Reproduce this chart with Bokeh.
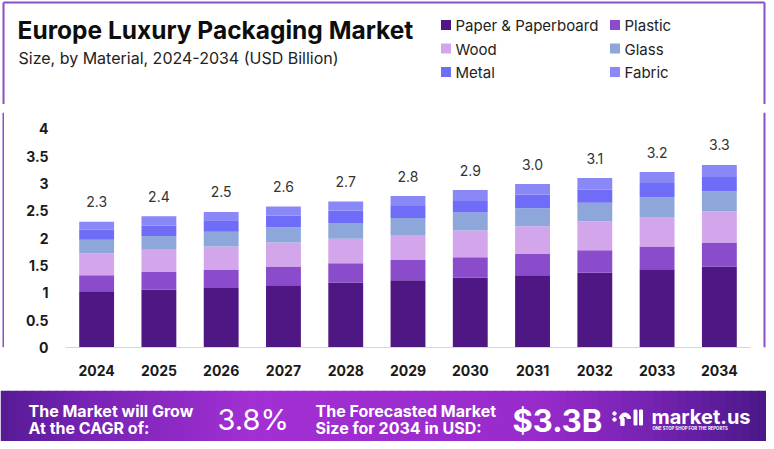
from bokeh.plotting import figure
from bokeh.models import ColumnDataSource, FactorRange, Range1d, FixedTicker
from bokeh.layouts import column, row
from bokeh.embed import file_html
from bokeh.resources import INLINE
from bokeh.core.properties import value

# ---------------- data ----------------
years = ["2024", "2025", "2026", "2027", "2028", "2029", "2030", "2031", "2032", "2033", "2034"]
materials = ["Paper & Paperboard", "Plastic", "Wood", "Glass", "Metal", "Fabric"]
paper = [1.03, 1.06, 1.09, 1.14, 1.19, 1.23, 1.28, 1.32, 1.37, 1.43, 1.48]
plastic = [0.29, 0.32, 0.33, 0.34, 0.35, 0.37, 0.37, 0.39, 0.41, 0.42, 0.44]
wood = [0.40, 0.41, 0.43, 0.44, 0.45, 0.46, 0.49, 0.51, 0.53, 0.54, 0.57]
glass = [0.25, 0.25, 0.27, 0.28, 0.29, 0.31, 0.33, 0.33, 0.34, 0.36, 0.37]
metal = [0.19, 0.19, 0.21, 0.21, 0.22, 0.22, 0.21, 0.25, 0.24, 0.26, 0.26]
fabric = [0.14, 0.17, 0.15, 0.17, 0.17, 0.18, 0.20, 0.19, 0.21, 0.20, 0.22]
total_labels = ["2.3", "2.4", "2.5", "2.6", "2.7", "2.8", "2.9", "3.0", "3.1", "3.2", "3.3"]
y_ticks = [0, 0.5, 1, 1.5, 2, 2.5, 3, 3.5, 4]
y_tick_labels = ["0", "0.5", "1", "1.5", "2", "2.5", "3", "3.5", "4"]

title_text = "Europe Luxury Packaging Market"
subtitle_text = "Size, by Material, 2024-2034 (USD Billion)"
cagr_lines = ["The Market will Grow", "At the CAGR of:"]
cagr_value = "3.8%"
forecast_lines = ["The Forecasted Market", "Size for 2034 in USD:"]
forecast_value = "$3.3B"
brand = "market.us"
tagline = "ONE STOP SHOP FOR THE REPORTS"

colors = ["#4E1783", "#8A4CCB", "#D3A5EA", "#8EA7DA", "#6F6CF8", "#8A87F7"]
BORDER = "#8E4FC6"
FONT = "Inter"
W = 766


def blank(width, height, xr, yr):
    f = figure(width=width, height=height, x_range=Range1d(*xr), y_range=Range1d(*yr),
               x_axis_type=None, y_axis_type=None, output_backend="svg",
               toolbar_location=None, min_border=0)
    f.grid.visible = False
    f.outline_line_color = None
    f.background_fill_color = "white"
    f.border_fill_color = "white"
    return f


def txt(f, x, y, s, size, bold=False, color="#111111", align="left"):
    f.text(x=[x], y=[y], text=[s], text_font=value(FONT), text_font_size=size,
           text_font_style="bold" if bold else "normal", text_color=color,
           text_align=align, text_baseline="middle")


# ---------------- header (title + legend) ----------------
HH = 104
hdr = blank(W, HH, (0, W), (HH, 0))
hdr.segment(x0=[3, 3, 764], y0=[2, 2, 2], x1=[764, 3, 764], y1=[2, HH, HH],
            line_color=BORDER, line_width=2)
txt(hdr, 17, 29, title_text, "24.5px", bold=True, color="#0d0d0d")
txt(hdr, 18, 57.5, subtitle_text, "16px", color="#222222")

col_x = [440, 609]
row_y = [24.5, 48, 71.5]
lx = [col_x[i % 2] for i in range(len(materials))]
ly = [row_y[i // 2] for i in range(len(materials))]
hdr.rect(x=[v + 5.5 for v in lx], y=ly, width=10, height=10, fill_color=colors, line_color=None)
hdr.text(x=[v + 15 for v in lx], y=[v + 0.5 for v in ly], text=materials, text_font=value(FONT),
         text_font_size="15px", text_color="#222222", text_baseline="middle")

# ---------------- main chart ----------------
MH = 286
series = [paper, plastic, wood, glass, metal, fabric]
keys = ["paper", "plastic", "wood", "glass", "metal", "fabric"]
data = {"years": years}
for k, s in zip(keys, series):
    data[k] = s
data["total"] = [sum(v) for v in zip(*series)]
data["total_label"] = total_labels
src = ColumnDataSource(data)

p = figure(width=758, height=MH, x_range=FactorRange(*years), y_range=Range1d(0, 4.3),
           output_backend="svg", toolbar_location=None,
           min_border_left=61, min_border_right=12, min_border_top=8, min_border_bottom=43)
p.x_range.range_padding = 0
p.outline_line_color = None
p.grid.visible = False
p.background_fill_color = "white"
p.border_fill_color = "white"

p.vbar_stack(keys, x="years", width=0.56, color=colors, line_color=None, source=src)
p.text(x="years", y="total", text="total_label", source=src, text_align="center",
       text_baseline="middle", y_offset=-20, text_font=value(FONT),
       text_font_size="14px", text_color="#333333")

p.yaxis.ticker = FixedTicker(ticks=y_ticks)
p.yaxis.major_label_overrides = {t: l for t, l in zip(y_ticks, y_tick_labels)}
for ax in (p.xaxis[0], p.yaxis[0]):
    ax.major_tick_line_color = None
    ax.minor_tick_line_color = None
    ax.major_tick_out = 0
    ax.major_tick_in = 0
    ax.major_label_text_font = FONT
    ax.major_label_text_font_style = "bold"
    ax.major_label_text_font_size = "14px"
    ax.major_label_text_color = "#1a1a1a"
    ax.major_label_standoff = 17
p.yaxis.axis_line_color = None
p.xaxis.axis_line_color = "#d6d6d6"

lstrip = blank(4, MH, (0, 4), (0, 1))
lstrip.segment(x0=[3], y0=[0], x1=[3], y1=[1], line_color=BORDER, line_width=2)
rstrip = blank(4, MH, (762, 766), (0, 1))
rstrip.segment(x0=[764], y0=[0], x1=[764], y1=[1], line_color=BORDER, line_width=2)

# ---------------- banner ----------------
BH = 51
ban = blank(W, BH, (0, W), (390 + BH, 390))
stops = [(0.0, (0x55, 0x1B, 0x95)), (0.12, (0x78, 0x24, 0xB6)), (0.33, (0xA2, 0x2F, 0xD3)),
         (0.70, (0x98, 0x2B, 0xCB)), (0.86, (0x72, 0x22, 0xAF)), (1.0, (0x4A, 0x18, 0x88))]


def grad(t):
    for (t0, c0), (t1, c1) in zip(stops[:-1], stops[1:]):
        if t0 <= t <= t1:
            f = (t - t0) / (t1 - t0)
            return "#%02x%02x%02x" % tuple(round(a + (b - a) * f) for a, b in zip(c0, c1))
    return "#4a1888"


N = 96
edges = [W * i / N for i in range(N + 1)]
ban.quad(left=edges[:-1], right=[e + 1 for e in edges[1:]], top=[390] * N, bottom=[390 + BH] * N,
         fill_color=[grad((i + 0.5) / N) for i in range(N)], line_color=None)

txt(ban, 28, 410, cagr_lines[0], "16px", bold=True, color="white")
txt(ban, 28, 427.5, cagr_lines[1], "16px", bold=True, color="white")
txt(ban, 217, 419, cagr_value, "29px", color="white")
txt(ban, 315, 410, forecast_lines[0], "16px", bold=True, color="white")
txt(ban, 315, 427.5, forecast_lines[1], "16px", bold=True, color="white")
txt(ban, 512, 420, forecast_value, "31px", bold=True, color="white")
txt(ban, 651, 416, brand, "20px", bold=True, color="white")
txt(ban, 652, 428, tagline, "4.3px", bold=True, color="white")
# logo mark
ban.scatter(x=[614, 614], y=[413, 419], size=3.5, color="white")
ban.annular_wedge(x=[624.5], y=[418], inner_radius=2.2, outer_radius=5.5, start_angle=0,
                  end_angle=3.14159, color="white", direction="anticlock")
ban.rect(x=[622, 627], y=[421.5], width=[3.3, 3.3], height=[7, 7], color="white")
ban.rect(x=[635, 640.5], y=[417, 417], width=3, height=15, color="white")

layout = column(hdr, row(lstrip, p, rstrip), ban, spacing=0)
open("out.html", "w").write(file_html(layout, INLINE))
